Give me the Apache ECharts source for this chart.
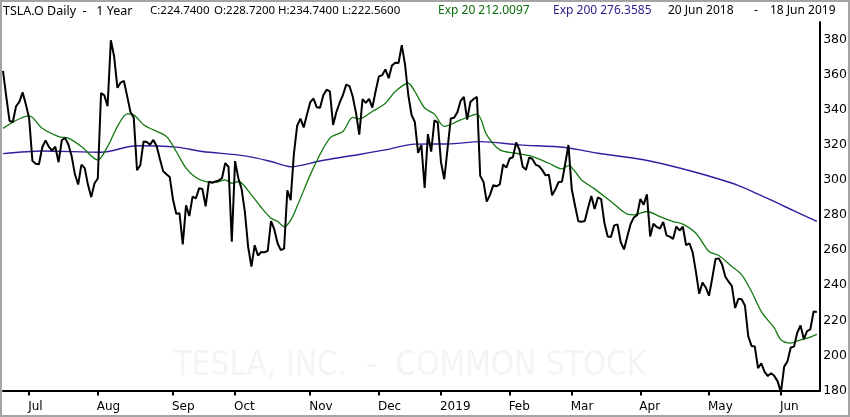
<!DOCTYPE html>
<html><head><meta charset="utf-8">
<script src="https://cdn.jsdelivr.net/npm/echarts@6/dist/echarts.min.js"></script>
<style>
html,body{margin:0;padding:0;background:#fff;overflow:hidden}
#c{position:absolute;left:0;top:0;width:850px;height:417px}
#f{position:absolute;left:0;top:0;width:850px;height:417px;box-sizing:border-box;border:2px solid #a4a4a4;pointer-events:none}
</style>
</head><body><div id="c"></div><div id="f"></div>
<script>
// ---- data ----
var startDate = '2018-06-20';
var endDate = '2019-06-18';
var holidays = ['2018-07-04','2018-09-03','2018-11-22','2018-12-05','2018-12-25','2019-01-01','2019-01-21','2019-02-18','2019-04-19','2019-05-27'];
var monthNames = ['Jan','Feb','Mar','Apr','May','Jun','Jul','Aug','Sep','Oct','Nov','Dec'];
var yTicks = [180,200,220,240,260,280,300,320,340,360,380];

var closes = [
362.2,347.5,333.6,333.0,342.0,344.5,349.9,343.0,
335.1,310.9,309.2,308.9,318.5,322.5,319.0,316.7,318.9,310.1,322.7,323.9,320.2,313.6,303.2,297.4,308.7,306.7,297.2,290.2,298.1,
300.8,349.5,348.2,342.0,379.6,370.3,352.5,355.5,356.4,347.6,338.7,335.5,305.5,308.4,321.9,321.6,320.1,322.8,319.3,311.9,305.0,303.2,301.7,
289.0,280.7,281.0,263.2,285.5,279.4,290.5,289.5,295.2,294.8,285.0,299.0,298.3,299.1,299.7,301.0,309.6,307.5,264.8,
310.7,301.0,294.8,281.8,261.9,250.6,262.8,256.9,258.9,258.8,259.6,276.6,271.8,263.9,260.0,260.9,294.1,288.5,314.9,330.9,334.9,329.9,337.3,
344.3,346.4,341.4,341.1,348.2,351.4,350.5,331.3,338.7,344.0,348.4,354.3,353.5,347.5,338.2,325.8,346.0,343.9,346.2,341.2,350.5,
359.0,359.7,363.0,358.0,365.2,366.8,366.6,376.8,365.7,348.4,337.0,333.0,315.4,319.8,295.4,326.1,316.1,333.9,332.8,
310.1,300.4,317.7,335.0,335.4,338.5,345.0,347.3,334.4,344.4,346.1,347.3,302.3,298.9,287.6,291.5,297.0,296.4,297.5,308.8,307.0,
312.2,312.9,321.4,317.2,307.5,305.8,312.8,311.8,308.6,307.9,305.6,302.6,303.0,291.2,294.7,298.8,298.9,309.1,319.9,
294.8,285.4,276.5,276.2,276.6,284.1,290.9,283.4,290.0,289.0,275.4,267.7,267.5,274.1,274.6,264.5,260.4,267.8,274.8,278.6,279.9,
289.2,285.9,291.8,267.8,275.0,273.2,272.3,276.1,268.4,267.7,266.4,273.4,271.2,273.3,262.8,263.9,258.7,247.6,235.1,241.5,238.7,
234.0,244.1,255.0,255.3,251.8,244.8,242.0,239.5,227.0,232.3,232.0,228.3,211.0,205.4,205.1,192.7,195.5,190.6,188.2,189.9,188.2,185.2,
179.0,193.6,196.6,204.5,205.0,212.9,217.1,209.3,213.9,214.9,225.0,224.7
];

var ema20Dates = ['2018-06-20','2018-07-02','2018-07-09','2018-07-16','2018-07-19','2018-07-25','2018-08-01','2018-08-06','2018-08-09','2018-08-14',
'2018-08-16','2018-08-21','2018-08-24','2018-08-30','2018-09-05','2018-09-10','2018-09-13','2018-09-18','2018-09-21','2018-09-26',
'2018-09-28','2018-10-02','2018-10-08','2018-10-11','2018-10-16','2018-10-18','2018-10-22','2018-10-24','2018-10-26','2018-11-02',
'2018-11-09','2018-11-15','2018-11-20','2018-11-23','2018-11-29','2018-12-06','2018-12-11','2018-12-17','2018-12-19','2018-12-24',
'2018-12-28','2019-01-03','2019-01-10','2019-01-17','2019-01-23','2019-01-29','2019-02-05','2019-02-12','2019-02-20','2019-02-26',
'2019-02-28','2019-03-06','2019-03-12','2019-03-19','2019-03-26','2019-03-28','2019-04-03','2019-04-09','2019-04-15','2019-04-18',
'2019-04-25','2019-05-01','2019-05-06','2019-05-10','2019-05-15','2019-05-20','2019-05-23','2019-05-30','2019-06-03','2019-06-06',
'2019-06-11','2019-06-13','2019-06-18'];
var ema20Values = [329.4,336.5,329.4,324.7,323.8,319.0,311.4,319.0,330.4,337.6,
337.1,331.4,328.5,324.7,316.2,306.7,301.4,299.1,298.7,300.0,
298.1,299.1,291.5,284.3,278.2,276.3,273.4,277.0,285.0,307.0,
323.8,327.6,335.6,334.8,339.0,343.7,350.4,355.1,350.4,341.0,
337.5,330.5,334.2,337.5,325.7,317.1,315.2,313.3,309.5,306.3,
308.2,300.0,294.9,287.7,280.5,280.1,282.0,279.1,276.3,274.8,
269.6,259.2,256.9,250.7,245.9,236.4,225.0,215.5,208.9,207.0,
208.9,209.8,212.0];

var ema200Dates = ['2018-06-20','2018-07-09','2018-08-02','2018-08-17','2018-09-05','2018-09-17','2018-10-04','2018-10-16','2018-10-24','2018-11-06',
'2018-11-20','2018-12-06','2018-12-19','2019-01-04','2019-01-18','2019-02-06','2019-02-27','2019-03-13','2019-04-02','2019-04-24',
'2019-05-14','2019-06-04','2019-06-18'];
var ema200Values = [315.0,316.5,315.8,319.5,318.7,316.2,313.7,310.5,307.5,310.8,
313.9,317.1,320.4,320.5,321.8,320.0,318.5,315.2,311.5,304.8,
296.8,285.0,276.4];

// ---- trading calendar ----
function fmt(d){var m=d.getUTCMonth()+1,dd=d.getUTCDate();return d.getUTCFullYear()+'-'+(m<10?'0':'')+m+'-'+(dd<10?'0':'')+dd;}
var dates = [];
(function(){
  var d = new Date(startDate+'T00:00:00Z'), e = new Date(endDate+'T00:00:00Z');
  while (d <= e) {
    var wd = d.getUTCDay(), s = fmt(d);
    if (wd !== 0 && wd !== 6 && holidays.indexOf(s) < 0) dates.push(s);
    d = new Date(d.getTime() + 86400000);
  }
})();
var categories = dates.concat(['']);
function isMonthStart(i){
  if (i <= 0 || i >= dates.length) return false;
  return dates[i].slice(5,7) !== dates[i-1].slice(5,7);
}
function monthLabel(s){
  if (!s) return '';
  var m = parseInt(s.slice(5,7),10);
  return m === 1 ? s.slice(0,4) : monthNames[m-1];
}
function pairs(ds, vs){ return ds.map(function(d,i){return [d, vs[i]];}); }

var chart = echarts.init(document.getElementById('c'), null, {renderer:'canvas'});
var hdrFont = 'Noto Sans';
function hdr(x, text, color, size){
  return {type:'text', x:x, y:11, z:10, style:{text:text, fill:color, fontSize:size || 12, fontFamily:hdrFont, verticalAlign:'middle', align:'left'}};
}
chart.setOption({
  animation:false,
  backgroundColor:'#fff',
  grid:{left:3, right:29, top:22, bottom:26.5, containLabel:false},
  xAxis:{
    type:'category', data:categories, boundaryGap:false,
    axisLine:{show:true, lineStyle:{color:'#000', width:2}},
    axisTick:{show:true, length:5, lineStyle:{color:'#000', width:2}, interval:function(i){return isMonthStart(i);}},
    axisLabel:{interval:function(i){return isMonthStart(i);}, formatter:function(v){return monthLabel(v);},
      align:'left', color:'#000', fontFamily:'DejaVu Sans', fontSize:12, margin:10, padding:[0,0,0,-1]},
    splitLine:{show:false}
  },
  yAxis:{
    type:'value', position:'right', min:180, max:390, interval:20,
    axisLine:{show:true, lineStyle:{color:'#000', width:2}},
    axisTick:{show:false},
    axisLabel:{color:'#000', fontFamily:'DejaVu Sans', fontSize:12.5, margin:3,
      formatter:function(v){return yTicks.indexOf(v) >= 0 ? String(v) : '';}},
    splitLine:{show:false}
  },
  graphic:[
    {type:'text', x:410, y:366, z:-1, silent:true, style:{text:'TESLA, INC.  -  COMMON STOCK', fill:'#f4f4f4',
      fontSize:33, fontFamily:"'Liberation Sans Narrow','DejaVu Sans Condensed',sans-serif", align:'center', verticalAlign:'middle'}},
    hdr(3, 'TSLA.O Daily  -   1 Year', '#000', 12.5),
    hdr(150, 'C:224.7400', '#000', 11.5),
    hdr(214, 'O:228.7200', '#000', 11.5),
    hdr(278, 'H:234.7400', '#000', 11.5),
    hdr(342, 'L:222.5600', '#000', 11.5),
    hdr(438, 'Exp 20 212.0097', '#0a6e0a', 12),
    hdr(553, 'Exp 200 276.3585', '#331a8c', 12),
    hdr(668, '20 Jun 2018', '#000', 12),
    hdr(754, '-', '#000', 12),
    hdr(770, '18 Jun 2019', '#000', 12)
  ],
  series:[
    {name:'Exp 200', type:'line', data:pairs(ema200Dates, ema200Values), showSymbol:false, smooth:0.3, connectNulls:true,
      lineStyle:{color:'#3a1aa0', width:1.4}, z:2},
    {name:'Exp 20', type:'line', data:pairs(ema20Dates, ema20Values), showSymbol:false, smooth:0.3, connectNulls:true,
      lineStyle:{color:'#127812', width:1.3}, z:3},
    {name:'Close', type:'line', data:closes, showSymbol:false,
      lineStyle:{color:'#000', width:2}, z:4}
  ]
});
</script></body></html>
